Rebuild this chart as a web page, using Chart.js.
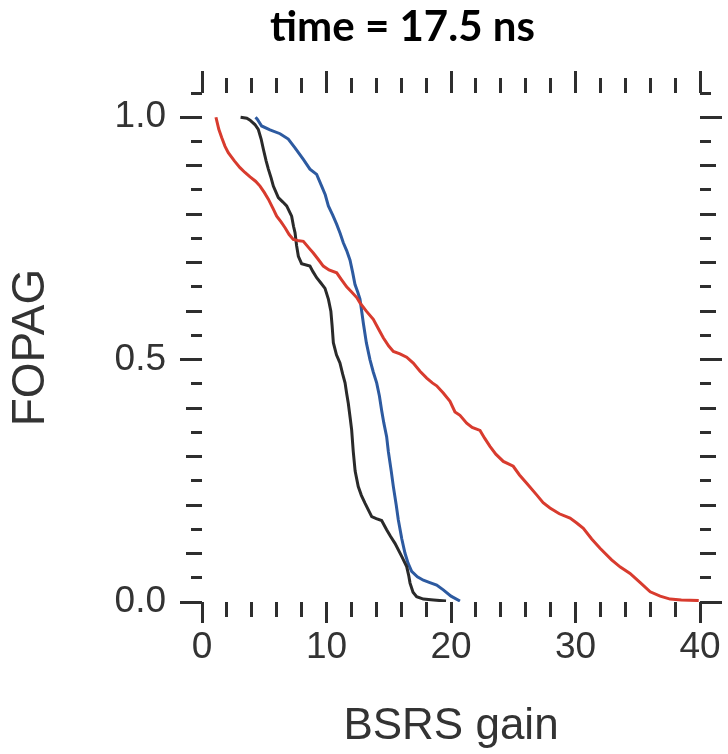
<!DOCTYPE html>
<html><head><meta charset="utf-8">
<script src="https://cdn.jsdelivr.net/npm/chart.js@4"></script>
<style>html,body{margin:0;padding:0;background:#fff}#wrap{width:728px;height:754px;position:relative}</style>
</head><body><div id="wrap"><canvas id="c"></canvas></div>
<script>
const titleText = 'time = 17.5 ns';
const xTitle = 'BSRS gain';
const yTitle = 'FOPAG';
const xTickLabels = [0, 10, 20, 30, 40];
const yTickLabels = [0.0, 0.5, 1.0];

const redX = [1.12,1.35,1.58,1.85,2.11,2.6,3.05,3.45,3.86,4.3,4.66,5.0,5.33,5.7,6.0,6.35,6.67,7.0,7.33,7.8,8.14,8.6,8.94,9.3,9.74,10.2,10.82,11.2,11.62,12.0,12.43,12.69,13.2,13.76,14.2,14.56,15.0,15.37,15.9,16.44,16.97,17.51,18.05,18.5,18.85,19.38,19.92,20.32,20.72,21.26,21.7,22.33,22.7,23.13,23.6,24.2,25.0,25.5,26.08,26.88,27.4,27.95,28.7,29.56,30.1,30.63,31.3,31.97,32.9,33.6,34.38,35.2,36.0,36.8,37.6,38.5,39.9];
const redY = [1.0,0.975,0.958,0.94,0.927,0.91,0.896,0.886,0.877,0.868,0.858,0.845,0.831,0.812,0.796,0.784,0.772,0.758,0.748,0.745,0.744,0.73,0.72,0.708,0.693,0.685,0.679,0.665,0.65,0.64,0.628,0.617,0.6,0.583,0.562,0.545,0.528,0.517,0.512,0.505,0.493,0.476,0.462,0.452,0.446,0.431,0.414,0.392,0.385,0.369,0.36,0.354,0.338,0.321,0.305,0.29,0.28,0.262,0.245,0.221,0.205,0.194,0.182,0.173,0.163,0.152,0.13,0.111,0.087,0.072,0.059,0.04,0.021,0.012,0.006,0.004,0.003];

const blackX = [3.1,3.6,3.86,4.25,4.52,4.75,4.93,5.15,5.33,5.55,5.73,6.13,6.5,6.8,7.2,7.35,7.47,7.6,7.74,8.0,8.67,8.9,9.21,9.55,9.88,10.15,10.35,10.45,10.55,10.8,11.08,11.3,11.49,11.62,11.75,11.9,12.02,12.15,12.3,12.55,12.8,13.09,13.4,13.63,14.0,14.43,14.83,15.15,15.5,16.04,16.44,16.6,16.71,16.95,17.24,17.78,18.6,19.6];
const blackY = [1.0,0.998,0.994,0.985,0.975,0.955,0.934,0.91,0.893,0.875,0.858,0.834,0.825,0.817,0.796,0.775,0.762,0.735,0.713,0.698,0.693,0.682,0.669,0.658,0.647,0.625,0.6,0.57,0.535,0.51,0.493,0.47,0.452,0.43,0.41,0.38,0.355,0.31,0.27,0.238,0.22,0.204,0.188,0.176,0.172,0.168,0.149,0.135,0.121,0.094,0.073,0.055,0.039,0.02,0.011,0.006,0.004,0.002];

const blueX = [4.3,4.44,4.79,5.46,6.27,6.93,7.47,8.14,8.67,9.21,9.61,9.9,10.15,10.5,10.82,11.1,11.35,11.62,11.89,12.1,12.29,12.5,12.69,12.96,13.2,13.49,13.75,14.03,14.25,14.43,14.6,14.83,14.97,15.2,15.37,15.6,15.77,16.05,16.3,16.55,16.84,17.3,17.78,18.3,18.85,19.38,20.0,20.72];
const blueY = [1.0,0.996,0.982,0.974,0.966,0.955,0.937,0.913,0.893,0.882,0.858,0.84,0.817,0.798,0.779,0.76,0.741,0.725,0.705,0.68,0.655,0.64,0.625,0.575,0.535,0.5,0.475,0.452,0.425,0.395,0.37,0.341,0.31,0.27,0.238,0.2,0.169,0.13,0.101,0.08,0.063,0.052,0.045,0.04,0.035,0.025,0.012,0.002];

const pts = (xs, ys) => xs.map((x, i) => ({x: x, y: ys[i]}));
const TICK = '#2e2e2e';
const TXT = '#333333';
const isXMajor = v => Math.abs(v % 10) < 1e-6;
const yKind = v => { const h = Math.round(v * 100); return h % 50 === 0 ? 2 : (h % 10 === 0 ? 1 : 0); };

const chart = new Chart(document.getElementById('c'), {
  type: 'scatter',
  data: {
    datasets: [
      {data: pts(redX, redY), borderColor: '#d83b2e', showLine: true, borderWidth: 3, pointRadius: 0, tension: 0},
      {data: pts(blackX, blackY), borderColor: '#2a2a2a', showLine: true, borderWidth: 3, pointRadius: 0, tension: 0},
      {data: pts(blueX, blueY), borderColor: '#2d5aa0', showLine: true, borderWidth: 3, pointRadius: 0, tension: 0}
    ]
  },
  options: {
    responsive: true, maintainAspectRatio: false, animation: false,
    layout: {padding: {left: 77, right: 0, top: 0, bottom: 0}},
    plugins: {
      legend: {display: false}, tooltip: {enabled: false},
      title: {display: true, text: titleText, color: '#000',
        font: {family: 'Lato', weight: 'bold', size: 42}, lineHeight: 1.2, padding: {top: 2, bottom: 0}}
    },
    scales: {
      x: {
        type: 'linear', position: 'bottom', min: 0, max: 40,
        border: {display: false},
        grid: {drawOnChartArea: false, drawTicks: true, tickLength: 21, tickWidth: 3, tickColor: TICK,
          tickBorderDash: ctx => isXMajor(ctx.tick.value) ? [] : [15, 200]},
        ticks: {stepSize: 2, autoSkip: false, maxRotation: 0, minRotation: 0, padding: 3, color: TXT,
          font: {family: 'Liberation Sans', size: 37},
          callback: v => xTickLabels.some(t => Math.abs(t - v) < 1e-6) ? String(v) : ''},
        title: {display: true, text: xTitle, color: TXT, font: {family: 'Liberation Sans', size: 44}, padding: {top: 0, bottom: 1}},
        afterFit: s => { s.height = 152; }
      },
      x2: {
        type: 'linear', axis: 'x', position: 'top', min: 0, max: 40,
        border: {display: false},
        grid: {drawOnChartArea: false, drawTicks: true, tickLength: 22, tickWidth: 3, tickColor: TICK,
          tickBorderDash: ctx => isXMajor(ctx.tick.value) ? [] : [0, 7, 15, 200]},
        ticks: {stepSize: 2, autoSkip: false, display: false},
        afterFit: s => { s.height = 40.6; }
      },
      y: {
        type: 'linear', position: 'left', min: 0, max: 1.05,
        border: {display: false},
        grid: {drawOnChartArea: false, drawTicks: true, tickLength: 22, tickWidth: 3, tickColor: TICK,
          tickBorderDash: ctx => { const k = yKind(ctx.tick.value); return k === 2 ? [] : (k === 1 ? [0, 6, 16, 200] : [0, 11, 11, 200]); }},
        ticks: {stepSize: 0.05, autoSkip: false, padding: 14, color: TXT,
          font: {family: 'Liberation Sans', size: 37},
          callback: v => { const m = yTickLabels.find(t => Math.abs(t - v) < 1e-6); return m !== undefined ? m.toFixed(1) : ''; }},
        title: {display: true, text: yTitle, color: TXT, font: {family: 'Liberation Sans', size: 46}, padding: {top: -73, bottom: 0}},
        afterFit: s => { s.width = 125; }
      },
      y2: {
        type: 'linear', axis: 'y', position: 'right', min: 0, max: 1.05,
        border: {display: false},
        grid: {drawOnChartArea: false, drawTicks: true, tickLength: 22, tickWidth: 3, tickColor: TICK,
          tickBorderDash: ctx => { const k = yKind(ctx.tick.value); return k === 2 ? [] : (k === 1 ? [16, 200] : [11, 200]); }},
        ticks: {stepSize: 0.05, autoSkip: false, display: false},
        afterFit: s => { s.width = 28; }
      }
    }
  }
});
</script>
</body></html>
